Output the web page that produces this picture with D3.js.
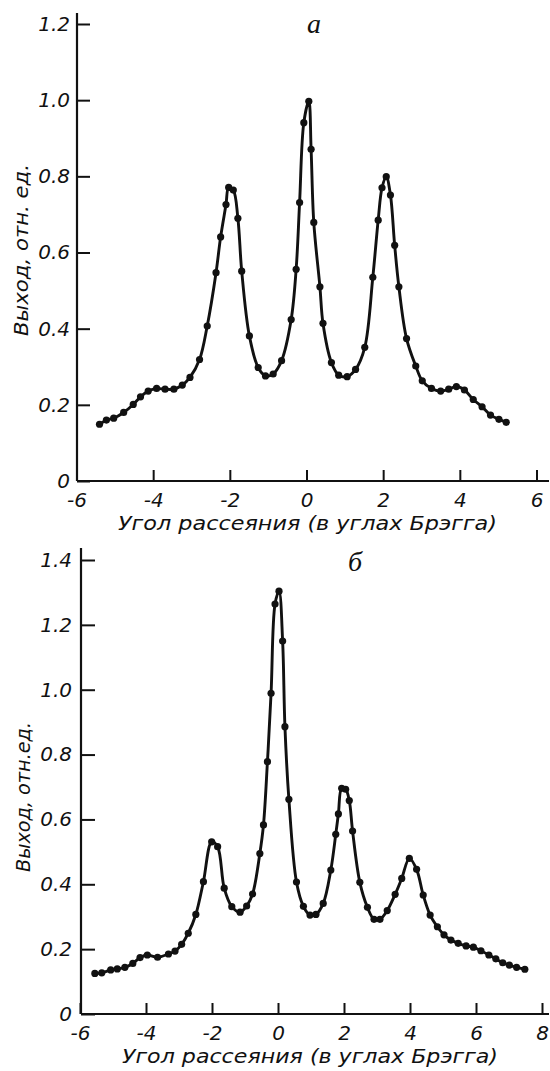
<!DOCTYPE html>
<html>
<head>
<meta charset="utf-8">
<script src="https://cdn.jsdelivr.net/npm/d3@7"></script>
<style>
  html, body { margin: 0; padding: 0; background: #fff; }
  svg { display: block; }
  .tick text, .lbl { font-family: "DejaVu Sans", sans-serif; font-style: oblique; fill: #111; }
</style>
</head>
<body>
<svg id="chart" width="550" height="1071"></svg>
<script>
// ---- Panel а data ----
const angleA = [-5.40,-5.22,-5.03,-4.77,-4.52,-4.33,-4.13,-3.91,-3.69,-3.46,-3.24,-3.04,-2.79,-2.59,-2.36,-2.24,-2.10,-2.03,-1.91,-1.79,-1.69,-1.49,-1.26,-1.07,-0.87,-0.65,-0.40,-0.27,-0.18,-0.07,0.06,0.12,0.19,0.35,0.43,0.65,0.84,1.06,1.28,1.52,1.73,1.87,1.97,2.08,2.19,2.30,2.41,2.61,2.85,3.02,3.26,3.50,3.71,3.91,4.12,4.35,4.58,4.80,5.02,5.21];
const yieldA = [0.149,0.160,0.165,0.180,0.201,0.221,0.236,0.243,0.241,0.241,0.252,0.272,0.319,0.407,0.547,0.641,0.726,0.771,0.764,0.690,0.551,0.381,0.298,0.276,0.281,0.316,0.424,0.556,0.731,0.941,0.997,0.871,0.679,0.510,0.414,0.311,0.278,0.274,0.293,0.351,0.535,0.685,0.770,0.799,0.751,0.619,0.510,0.374,0.302,0.263,0.243,0.236,0.241,0.248,0.239,0.214,0.195,0.173,0.162,0.154];
// ---- Panel б data ----
const angleB = [-5.55,-5.34,-5.07,-4.87,-4.64,-4.40,-4.18,-3.96,-3.65,-3.32,-3.12,-2.92,-2.72,-2.49,-2.26,-2.01,-1.83,-1.63,-1.40,-1.15,-0.95,-0.77,-0.55,-0.44,-0.32,-0.21,-0.09,0.03,0.14,0.21,0.33,0.56,0.77,0.97,1.15,1.37,1.60,1.75,1.83,1.93,2.05,2.16,2.26,2.48,2.71,2.91,3.09,3.31,3.55,3.75,3.98,4.20,4.40,4.61,4.83,5.03,5.24,5.46,5.70,5.92,6.15,6.39,6.60,6.81,7.01,7.23,7.48];
const yieldB = [0.125,0.127,0.136,0.139,0.144,0.156,0.174,0.182,0.175,0.185,0.194,0.215,0.249,0.307,0.408,0.531,0.516,0.388,0.331,0.314,0.333,0.370,0.495,0.583,0.778,0.989,1.264,1.304,1.150,0.886,0.662,0.407,0.332,0.305,0.307,0.341,0.444,0.554,0.617,0.696,0.693,0.658,0.564,0.406,0.329,0.292,0.292,0.319,0.369,0.418,0.480,0.446,0.367,0.305,0.269,0.244,0.228,0.218,0.210,0.206,0.195,0.182,0.170,0.158,0.151,0.144,0.138];

const xTicksA = [-6,-4,-2,0,2,4,6];
const yTicksA = [0,0.2,0.4,0.6,0.8,1.0,1.2];
const xTicksB = [-6,-4,-2,0,2,4,6,8];
const yTicksB = [0,0.2,0.4,0.6,0.8,1.0,1.2,1.4];

const xTitle = "Угол рассеяния (в углах Брэгга)";
const yTitleA = "Выход, отн. ед.";
const yTitleB = "Выход, отн.ед.";
const panelA = "а";
const panelB = "б";

const svg = d3.select("#chart");

function panel(cfg) {
  const x = d3.scaleLinear().domain(cfg.xDomain).range(cfg.xRange);
  const y = d3.scaleLinear().domain(cfg.yDomain).range(cfg.yRange);
  const g = svg.append("g");
  const x0 = cfg.axisX, y0 = y(0);

  g.append("line").attr("x1", x0).attr("x2", x0).attr("y1", y0).attr("y2", cfg.yTop)
    .attr("stroke", "#111").attr("stroke-width", 2.2);
  g.append("line").attr("x1", x0).attr("x2", cfg.xRight).attr("y1", y0).attr("y2", y0)
    .attr("stroke", "#111").attr("stroke-width", 2.2);

  const fmtY = d => d === 0 ? "0" : d3.format(".1f")(d);
  const fmtX = d => d < 0 ? "-" + Math.abs(d) : String(d);

  const ya = g.append("g").attr("transform", `translate(${x0},0)`)
    .call(d3.axisLeft(y).tickValues(cfg.yTicks).tickFormat(fmtY).tickSize(-cfg.yTick).tickPadding(cfg.yPad));
  ya.select(".domain").remove();
  ya.selectAll(".tick line").attr("stroke", "#111").attr("stroke-width", 2);
  ya.selectAll(".tick text").attr("font-size", 20).attr("fill", "#111").attr("font-family", null);

  const xa = g.append("g").attr("transform", `translate(0,${y0})`)
    .call(d3.axisBottom(x).tickValues(cfg.xTicks).tickFormat(fmtX).tickSize(-cfg.xTick).tickPadding(12));
  xa.select(".domain").remove();
  xa.selectAll(".tick line").attr("stroke", "#111").attr("stroke-width", 2);
  xa.selectAll(".tick text").attr("font-size", 20).attr("fill", "#111").attr("font-family", null);

  const data = cfg.xs.map((v, i) => [v, cfg.ys[i]]);
  const line = d3.line().x(d => x(d[0])).y(d => y(d[1])).curve(d3.curveCatmullRom.alpha(0.5));
  g.append("path").datum(data).attr("d", line).attr("fill", "none")
    .attr("stroke", "#111").attr("stroke-width", 2.9).attr("stroke-linejoin", "round");
  g.selectAll("circle").data(data).join("circle")
    .attr("cx", d => x(d[0])).attr("cy", d => y(d[1])).attr("r", 3.6).attr("fill", "#111");

  g.append("text").attr("class", "lbl").attr("x", cfg.xtX).attr("y", cfg.xtY)
    .attr("font-size", 20).attr("textLength", cfg.xtLen).attr("lengthAdjust", "spacingAndGlyphs")
    .text(xTitle);
  g.append("text").attr("class", "lbl")
    .attr("transform", `translate(${cfg.ytX},${cfg.ytY}) rotate(-90)`)
    .attr("text-anchor", "middle").attr("font-size", 20)
    .attr("textLength", cfg.ytLen).attr("lengthAdjust", "spacingAndGlyphs")
    .text(cfg.yTitle);
  g.append("text").attr("x", cfg.pX).attr("y", cfg.pY).attr("text-anchor", "middle")
    .attr("font-family", "Liberation Serif, serif").attr("font-style", "italic")
    .attr("font-size", cfg.pSize).attr("fill", "#111").text(cfg.pLabel);
}

panel({
  xs: angleA, ys: yieldA,
  xDomain: [-6, 6], xRange: [76.5, 536.5],
  yDomain: [0, 1.2], yRange: [481, 24],
  axisX: 77, yTop: 13, xRight: 549,
  xTicks: xTicksA, yTicks: yTicksA, yTick: 13, xTick: 11, yPad: 7,
  xtX: 118, xtY: 530, xtLen: 379,
  ytX: 28, ytY: 250, ytLen: 172, yTitle: yTitleA,
  pX: 314, pY: 33, pSize: 28, pLabel: panelA
});

panel({
  xs: angleB, ys: yieldB,
  xDomain: [-6, 8], xRange: [80, 542],
  yDomain: [0, 1.4], yRange: [1014, 560],
  axisX: 81, yTop: 548, xRight: 549,
  xTicks: xTicksB, yTicks: yTicksB, yTick: 14, xTick: 11, yPad: 9,
  xtX: 122, xtY: 1063, xtLen: 376,
  ytX: 30, ytY: 797, ytLen: 150, yTitle: yTitleB,
  pX: 355, pY: 571, pSize: 28, pLabel: panelB
});
</script>
</body>
</html>
